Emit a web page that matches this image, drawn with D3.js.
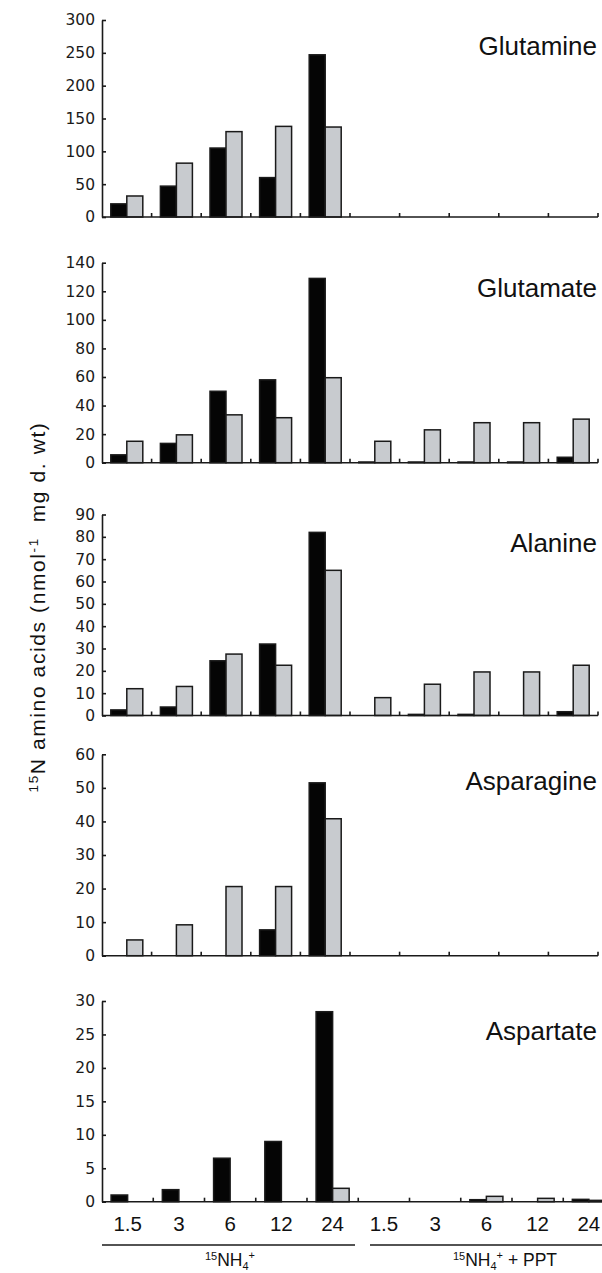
<!DOCTYPE html>
<html><head><meta charset="utf-8">
<script src="https://cdn.jsdelivr.net/npm/d3@7"></script>
<style>body{margin:0;background:#fff} svg{display:block}</style>
</head><body><svg id="chart" width="602" height="1273"></svg>
<script>
// ---- data ----
const timeLabels = ["1.5","3","6","12","24","1.5","3","6","12","24"];
const treatments = ["15NH4+", "15NH4+ + PPT"];
const aminoAcids = ["Glutamine","Glutamate","Alanine","Asparagine","Aspartate"];
const yMaxes = [300, 140, 90, 60, 30];
const yTickSteps = [50, 20, 10, 10, 5];
const glutamineBlack  = [20, 47, 105, 60, 247, 0, 0, 0, 0, 0];
const glutamineGray   = [32, 82, 130, 138, 137, 0, 0, 0, 0, 0];
const glutamateBlack  = [5.5, 13.5, 50, 58, 129, 0.5, 0.5, 0.5, 0.5, 3.8];
const glutamateGray   = [15, 19.5, 33.5, 31.5, 59.5, 15, 23, 28, 28, 30.5];
const alanineBlack    = [2.5, 3.8, 24.5, 32, 82, 0, 0.5, 0.5, 0, 1.7];
const alanineGray     = [12, 13, 27.5, 22.5, 65, 8, 14, 19.5, 19.5, 22.5];
const asparagineBlack = [0, 0, 0, 7.7, 51.5, 0, 0, 0, 0, 0];
const asparagineGray  = [4.7, 9.2, 20.6, 20.6, 40.8, 0, 0, 0, 0, 0];
const aspartateBlack  = [1, 1.8, 6.5, 9, 28.4, 0, 0, 0.3, 0, 0.35];
const aspartateGray   = [0, 0, 0, 0, 2, 0, 0, 0.8, 0.5, 0.2];

const seriesBlack = [glutamineBlack, glutamateBlack, alanineBlack, asparagineBlack, aspartateBlack];
const seriesGray  = [glutamineGray, glutamateGray, alanineGray, asparagineGray, aspartateGray];

// ---- layout ----
const axisX = 102;
const panelTop   = [20, 262.7, 514.5, 754.3, 1001];
const panelBase  = [217, 462.7, 715.5, 955.7, 1201.7];
const panelRight = [598, 598, 598, 598, 614.5];
const titleY     = [55, 297, 552, 790, 1040];
const ink = "#1a1a1a";

const svg = d3.select("#chart");
svg.append("rect").attr("width",602).attr("height",1273).attr("fill","#fff");

aminoAcids.forEach((name, i) => {
  const g = svg.append("g");
  const idx = d3.range(timeLabels.length);
  const x = d3.scaleBand().domain(idx).range([axisX, panelRight[i]]).padding(0);
  const xs = d3.scaleBand().domain(["black","gray"]).range([0, x.bandwidth()])
    .paddingInner(0).paddingOuter(0.55);
  const y = d3.scaleLinear().domain([0, yMaxes[i]]).range([panelBase[i], panelTop[i]]);

  const rows = [];
  idx.forEach(k => {
    rows.push({k, s:"black", v: seriesBlack[i][k]});
    rows.push({k, s:"gray",  v: seriesGray[i][k]});
  });
  g.selectAll("rect.bar").data(rows.filter(d => d.v > 0)).join("rect")
    .attr("class","bar")
    .attr("x", d => x(d.k) + xs(d.s))
    .attr("width", xs.bandwidth())
    .attr("y", d => y(d.v))
    .attr("height", d => y(0) - y(d.v))
    .attr("fill", d => d.s === "black" ? "#050505" : "#c8cbcf")
    .attr("stroke", ink)
    .attr("stroke-width", 1.5);

  // y axis
  const yAxis = d3.axisLeft(y)
    .tickValues(d3.range(0, yMaxes[i] + 0.001, yTickSteps[i]))
    .tickSize(-4).tickSizeOuter(0).tickPadding(7);
  const ya = g.append("g").attr("transform", `translate(${axisX},0)`).call(yAxis);
  ya.select(".domain").attr("stroke", ink).attr("stroke-width", 1.6);
  ya.selectAll(".tick line").attr("stroke", ink).attr("stroke-width", 1.6);
  ya.selectAll(".tick text").attr("font-family","DejaVu Sans, sans-serif")
    .attr("font-size", 15.5).attr("fill","#1a1a1a");

  // x axis baseline + boundary ticks
  g.append("line").attr("x1", axisX).attr("x2", panelRight[i])
    .attr("y1", y(0)).attr("y2", y(0)).attr("stroke", ink).attr("stroke-width", 1.6);
  const bounds = idx.slice(1).map(k => x(k)).concat([x.range()[1]]);
  g.selectAll("line.xt").data(bounds).join("line").attr("class","xt")
    .attr("x1", d => d).attr("x2", d => d)
    .attr("y1", y(0)).attr("y2", y(0) - 4)
    .attr("stroke", ink).attr("stroke-width", 1.6);

  // panel title
  g.append("text").attr("x", 597).attr("y", titleY[i]).attr("text-anchor","end")
    .attr("font-family","Liberation Sans, Arial, sans-serif").attr("font-size", 26)
    .attr("fill","#111").text(name);

  // category labels under the last panel
  if (i === aminoAcids.length - 1) {
    g.selectAll("text.cat").data(idx).join("text").attr("class","cat")
      .attr("x", k => x(k) + x.bandwidth()/2).attr("y", 1231)
      .attr("text-anchor","middle")
      .attr("font-family","Liberation Sans, Arial, sans-serif").attr("font-size", 20.5)
      .attr("fill","#111").text(k => timeLabels[k]);
  }
});

// treatment group lines and labels
const groupSpans = [[102, 355, 230], [370, 602, 505]];
groupSpans.forEach((s, j) => {
  svg.append("line").attr("x1", s[0]).attr("x2", s[1]).attr("y1", 1245).attr("y2", 1245)
    .attr("stroke", ink).attr("stroke-width", 1.5);
  const t = svg.append("text").attr("x", s[2]).attr("y", 1266).attr("text-anchor","middle")
    .attr("font-family","Liberation Sans, Arial, sans-serif").attr("font-size", 17.5).attr("fill","#111");
  t.append("tspan").attr("font-size", 11).attr("dy", -6).text("15");
  t.append("tspan").attr("dy", 6).text("NH");
  t.append("tspan").attr("font-size", 11).attr("dy", 4).text("4");
  t.append("tspan").attr("font-size", 11).attr("dy", -11).text("+");
  t.append("tspan").attr("dy", 7).text(j === 1 ? " + PPT" : "");
});

// y title
const yt = svg.append("text").attr("transform","translate(45,607) rotate(-90)")
  .attr("text-anchor","middle").attr("font-family","Liberation Sans, Arial, sans-serif")
  .attr("font-size", 21).attr("letter-spacing", 1.6).attr("fill","#111");
yt.append("tspan").attr("font-size", 13.5).attr("dy", -7).text("15");
yt.append("tspan").attr("dy", 7).text("N amino acids (nmol");
yt.append("tspan").attr("font-size", 13.5).attr("dy", -7).text("-1");
yt.append("tspan").attr("dy", 7).text("\u00a0\u00a0mg d. wt)");
</script></body></html>
